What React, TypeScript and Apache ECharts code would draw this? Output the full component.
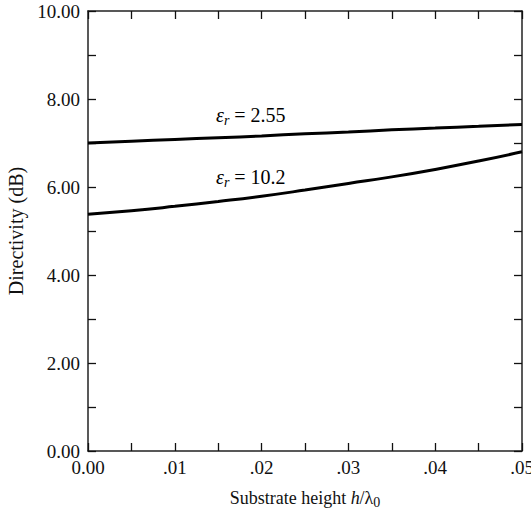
import React, { useEffect, useRef } from "react";
import * as echarts from "echarts";

const hValues = [0, 0.005, 0.01, 0.015, 0.02, 0.025, 0.03, 0.035, 0.04, 0.045, 0.05];
const dirEr255 = [7.0, 7.04, 7.08, 7.12, 7.16, 7.21, 7.25, 7.3, 7.34, 7.38, 7.42];
const dirEr102 = [5.38, 5.46, 5.56, 5.67, 5.79, 5.93, 6.08, 6.23, 6.4, 6.59, 6.8];
const seriesNames = ["εr = 2.55", "εr = 10.2"];
const labelValues = ["2.55", "10.2"];

const FONT = "Liberation Serif";

export default function App() {
  const ref = useRef<HTMLDivElement>(null);
  useEffect(() => {
    if (!ref.current) return;
    const chart = echarts.init(ref.current, null, { renderer: "svg" });
    const axisLine = { show: true, onZero: false, lineStyle: { color: "#222", width: 1.5 } };
    const tick = { show: true, inside: true, length: 8, lineStyle: { color: "#111", width: 1.3 } };
    const xFmt = (v: number) => {
      const k = Math.round(v / 0.005);
      if (k % 2 !== 0) return "";
      if (k === 0) return "0.00";
      return "." + String(k / 2).padStart(2, "0");
    };
    const yFmt = (v: number) => (Math.round(v) % 2 === 0 ? v.toFixed(2) : "");
    const rich = {
      e: { fontFamily: FONT, fontStyle: "italic", fontSize: 20, color: "#111" },
      s: { fontFamily: FONT, fontStyle: "italic", fontSize: 14, color: "#111", padding: [10, 0, 0, 0] },
      n: { fontFamily: FONT, fontSize: 20, color: "#111" },
    };
    const option: any = {
      animation: false,
      backgroundColor: "#fff",
      grid: { left: 88, right: 9, top: 11, bottom: 63, containLabel: false, outerBoundsMode: "none" },
      xAxis: [
        {
          type: "value", position: "bottom", min: 0, max: 0.05, interval: 0.005,
          axisLine, axisTick: tick, splitLine: { show: false },
          axisLabel: { formatter: xFmt, fontFamily: FONT, fontSize: 19, color: "#111", margin: 7, showMinLabel: true, showMaxLabel: true, hideOverlap: false },
          name: "{t|Substrate height }{i|h}{t|/λ}{s|0}",
          nameLocation: "middle", nameGap: 35,
          nameTextStyle: {
            rich: {
              t: { fontFamily: FONT, fontSize: 18, color: "#111" },
              i: { fontFamily: FONT, fontStyle: "italic", fontSize: 18, color: "#111" },
              s: { fontFamily: FONT, fontSize: 14, color: "#111", padding: [9, 0, 0, 0] },
            },
          },
        },
        {
          type: "value", position: "top", min: 0, max: 0.05, interval: 0.005,
          axisLine, axisTick: tick, axisLabel: { show: false }, splitLine: { show: false },
        },
      ],
      yAxis: [
        {
          type: "value", position: "left", min: 0, max: 10, interval: 1,
          axisLine, axisTick: tick, splitLine: { show: false },
          axisLabel: { formatter: yFmt, fontFamily: FONT, fontSize: 19, color: "#111", margin: 8 },
          name: "Directivity (dB)", nameLocation: "middle", nameGap: 53,
          nameTextStyle: { fontFamily: FONT, fontSize: 20, color: "#111" },
        },
        {
          type: "value", position: "right", min: 0, max: 10, interval: 1,
          axisLine, axisTick: tick, axisLabel: { show: false }, splitLine: { show: false },
        },
      ],
      series: [dirEr255, dirEr102].map((arr, i) => ({
        name: seriesNames[i],
        type: "line",
        smooth: true,
        symbol: "none",
        lineStyle: { color: "#000", width: 3 },
        data: arr.map((v, j) => [hValues[j], v]),
      })),
      graphic: [
        { type: "text", left: 216, top: 105, style: { text: `{e|ε}{s|r}{n| = ${labelValues[0]}}`, rich } },
        { type: "text", left: 216, top: 167, style: { text: `{e|ε}{s|r}{n| = ${labelValues[1]}}`, rich } },
      ],
    };
    chart.setOption(option);
    return () => chart.dispose();
  }, []);
  return <div ref={ref} style={{ width: 531, height: 514, position: "absolute", left: 0, top: 0 }} />;
}
